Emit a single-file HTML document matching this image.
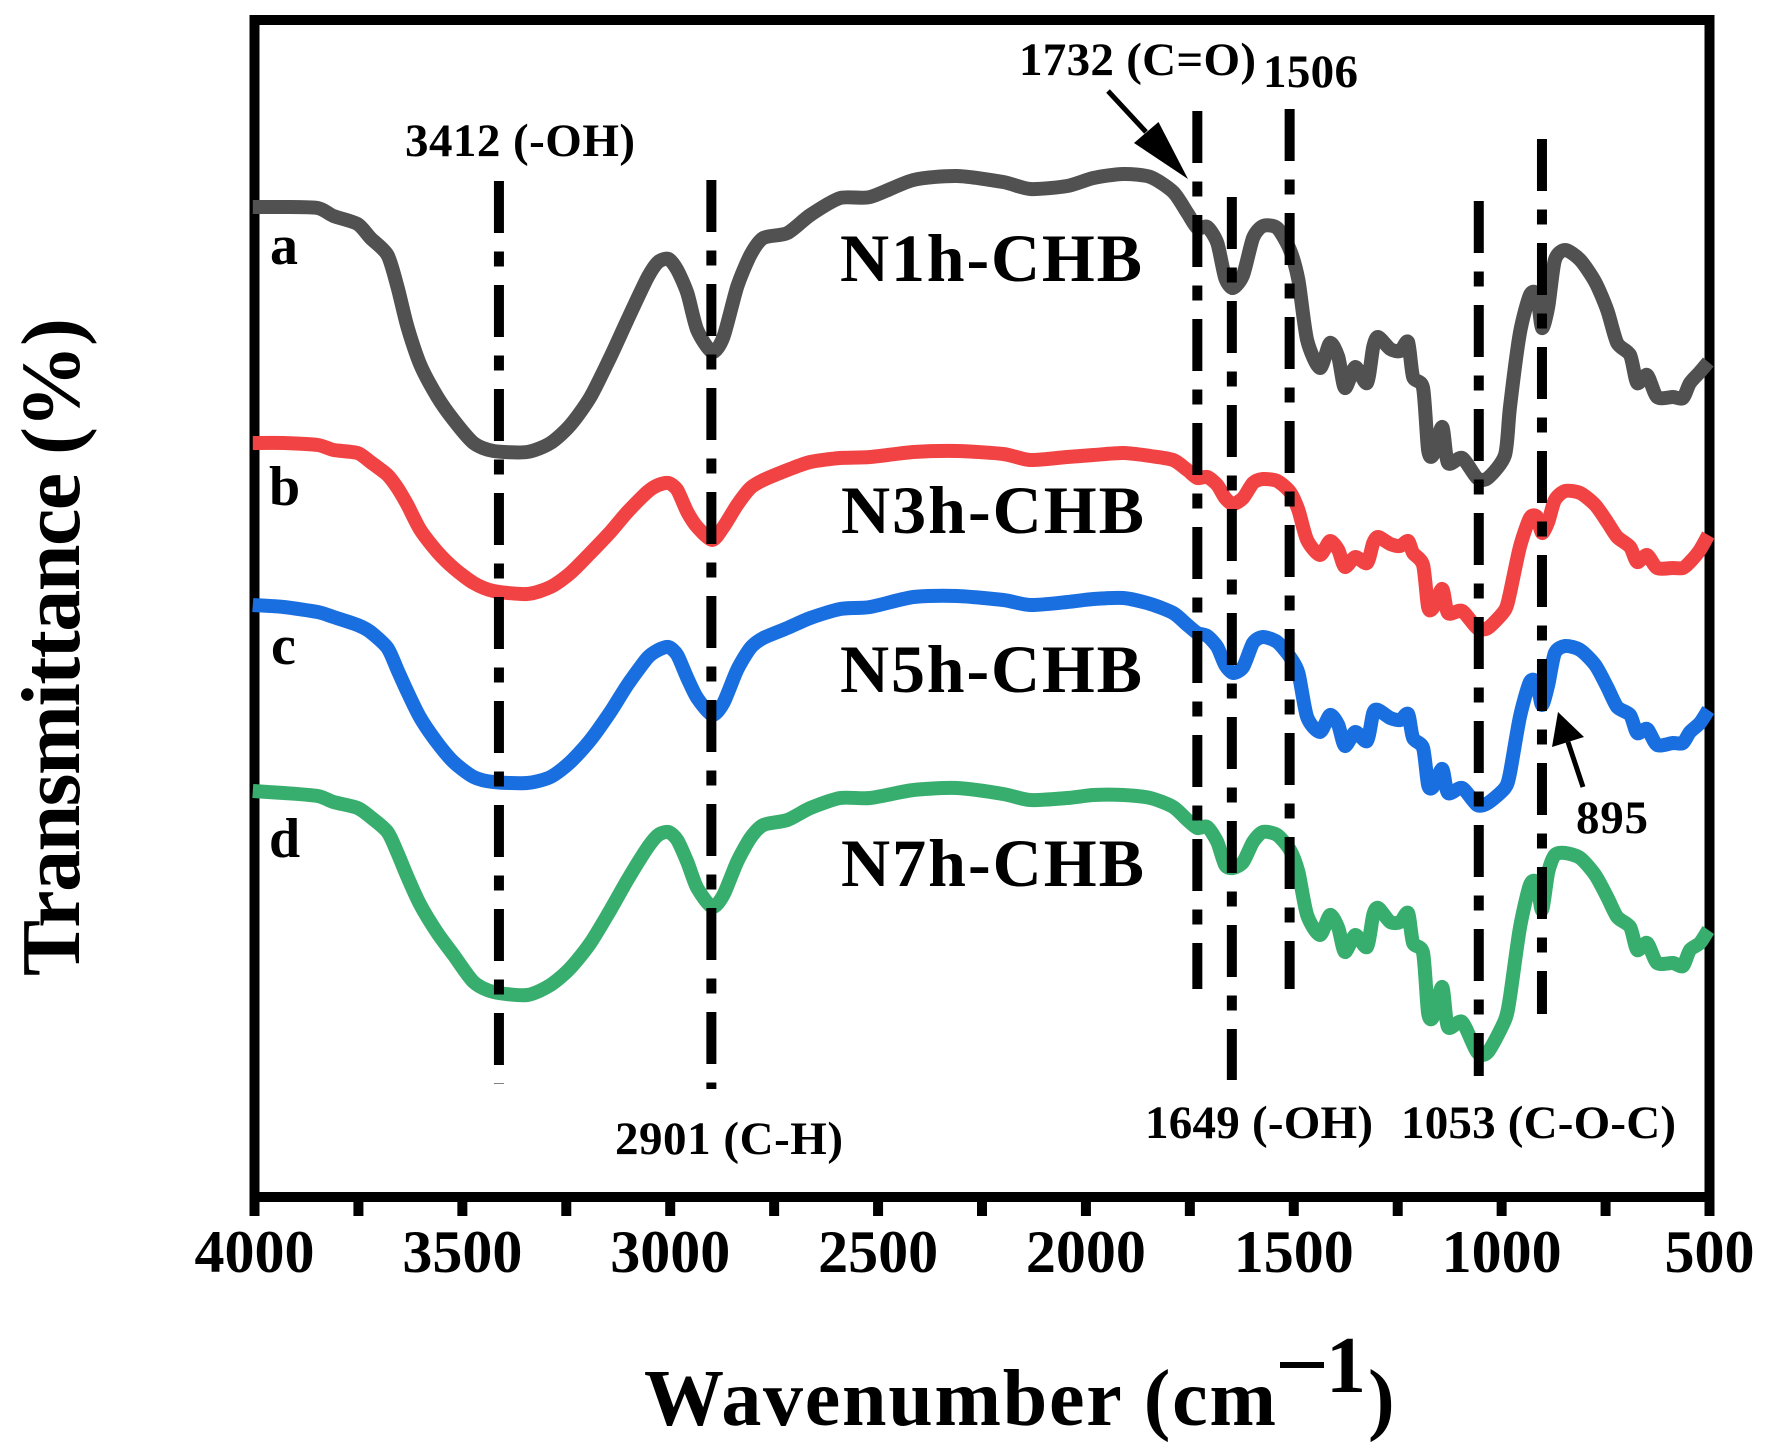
<!DOCTYPE html>
<html lang="en">
<head>
<meta charset="utf-8">
<title>FTIR spectra of CHB samples</title>
<style>
html,body{margin:0;padding:0;background:#fff;width:1768px;height:1455px;overflow:hidden}
svg{display:block}
text{font-family:"Liberation Serif",serif;font-weight:bold;fill:#000}
</style>
</head>
<body>
<svg id="chart" xmlns="http://www.w3.org/2000/svg" width="1768" height="1455" viewBox="0 0 1768 1455">
  <rect x="0" y="0" width="1768" height="1455" fill="#fff"/>
  <rect x="254.5" y="20" width="1455" height="1177" fill="none" stroke="#000" stroke-width="10"/>
  <g id="ticks"></g>
  <g id="tick-labels"></g>
  <g id="series"></g>
  <g id="peaks"></g>

  <text transform="translate(79 976) rotate(-90)" font-size="84" textLength="658" lengthAdjust="spacing">Transmittance (%)</text>
  <text x="644" y="1425" font-size="80" textLength="632" lengthAdjust="spacing">Wavenumber (cm</text>
  <rect x="1280" y="1362" width="44" height="6" fill="#000"/>
  <text x="1326" y="1392" font-size="80">1</text>
  <text x="1368" y="1425" font-size="80">)</text>

  <text x="270" y="264" font-size="56">a</text>
  <text x="269" y="505" font-size="56">b</text>
  <text x="271" y="664" font-size="56">c</text>
  <text x="269" y="857" font-size="56">d</text>

  <text x="840" y="281" font-size="68" textLength="302" lengthAdjust="spacing">N1h-CHB</text>
  <text x="841" y="533" font-size="68" textLength="303" lengthAdjust="spacing">N3h-CHB</text>
  <text x="840" y="692" font-size="68" textLength="302" lengthAdjust="spacing">N5h-CHB</text>
  <text x="841" y="886" font-size="68" textLength="303" lengthAdjust="spacing">N7h-CHB</text>

  <text x="405" y="156" font-size="47" textLength="230" lengthAdjust="spacing">3412 (-OH)</text>
  <text x="1019" y="75" font-size="47" textLength="237" lengthAdjust="spacing">1732 (C=O)</text>
  <text x="1263" y="87" font-size="47" textLength="95" lengthAdjust="spacing">1506</text>
  <text x="615" y="1154" font-size="47" textLength="228" lengthAdjust="spacing">2901 (C-H)</text>
  <text x="1145" y="1138" font-size="47" textLength="228" lengthAdjust="spacing">1649 (-OH)</text>
  <text x="1401" y="1138" font-size="47" textLength="275" lengthAdjust="spacing">1053 (C-O-C)</text>
  <text x="1576" y="833" font-size="47" textLength="72" lengthAdjust="spacing">895</text>

  <g>
    <line x1="1108" y1="91" x2="1146" y2="132" stroke="#000" stroke-width="5"/>
    <polygon points="1188,179 1134,143 1158.5,122" fill="#000"/>
  </g>
  <g>
    <line x1="1583" y1="787" x2="1568" y2="742" stroke="#000" stroke-width="5"/>
    <polygon points="1558,712 1552,747 1584,737" fill="#000"/>
  </g>
</svg>
<script>
// x axis categories: sampled wavenumbers (cm-1)
const wavenumbers = [4004,3930,3848,3810,3752,3721,3680,3656,3632,3601,
3560,3521,3473,3425,3344,3288,3240,3192,3144,3103,
3055,3029,3004,2983,2959,2935,2899,2872,2839,2807,
2776,2718,2663,2591,2519,2415,2310,2199,2134,2045,
1982,1910,1845,1790,1756,1732,1708,1684,1665,1646,
1622,1598,1574,1540,1509,1489,1468,1437,1413,1393,
1377,1352,1324,1309,1297,1268,1244,1225,1213,1189,
1177,1165,1143,1129,1095,1059,1033,992,980,956,
932,915,903,888,872,847,811,775,746,722,
691,674,650,626,588,564,547,523,503];

// stacked transmittance (offset a.u.)
const seriesN1h = [99.0,99.0,98.9,98.1,97.3,95.9,94.2,91.0,87.0,83.2,
80.0,77.7,75.4,74.6,74.5,75.4,77.2,80.0,84.0,87.7,
91.9,93.5,93.8,92.7,90.4,86.7,84.5,86.0,91.0,94.2,
95.9,96.4,98.2,99.9,100.0,101.7,102.1,101.5,100.8,101.1,
101.9,102.3,102.0,100.5,98.4,96.9,97.0,95.4,91.9,90.9,
92.2,95.9,97.1,96.9,94.7,91.7,85.7,82.9,85.4,84.0,
80.9,83.0,81.4,85.0,86.0,84.8,84.6,85.5,82.0,80.9,
74.7,74.2,77.0,73.4,73.9,71.9,71.9,74.2,79.0,86.4,
90.2,90.2,86.9,89.0,93.7,94.7,93.7,91.5,88.7,85.4,
84.2,81.4,82.2,80.0,80.0,79.9,81.4,82.5,83.5];

const seriesN3h = [75.4,75.4,75.2,74.7,74.4,73.5,72.2,70.9,69.2,66.7,
64.5,62.9,61.4,60.6,60.3,61.0,62.4,64.4,66.5,68.5,
70.5,71.2,71.4,70.7,68.5,67.0,65.7,67.0,69.2,70.9,
71.7,72.7,73.5,73.9,74.0,74.5,74.6,74.3,73.7,74.0,
74.2,74.4,74.1,73.7,72.7,71.9,72.0,71.2,69.9,69.3,
69.9,71.4,71.8,71.6,70.5,68.7,65.7,64.2,65.6,64.7,
63.0,64.0,63.4,65.4,66.0,65.3,65.1,65.6,64.4,63.2,
59.0,58.9,60.8,58.4,58.6,56.9,56.9,58.7,60.4,65.0,
67.9,68.0,66.4,67.5,69.7,70.6,70.4,69.2,67.5,66.0,
65.0,63.5,64.2,62.9,62.9,62.9,63.5,64.7,66.2];

const seriesN5h = [59.2,59.0,58.5,58.0,57.2,56.5,54.9,52.7,50.5,47.9,
45.4,43.5,42.0,41.5,41.4,42.0,43.5,45.7,48.5,51.2,
53.9,54.7,55.0,54.2,51.9,49.9,48.2,49.4,52.7,54.9,
55.9,56.9,57.9,58.8,59.0,60.0,60.1,59.7,59.2,59.5,
59.8,59.9,59.3,58.4,57.2,56.4,56.1,55.0,53.2,52.4,
53.0,55.4,56.0,55.5,54.0,52.4,48.0,46.5,48.2,47.2,
45.1,46.5,45.6,48.4,48.7,47.9,47.7,48.3,45.9,44.9,
41.2,41.0,42.8,40.4,40.9,39.2,39.4,40.9,42.4,48.0,
51.5,51.4,49.2,51.2,54.4,55.1,54.7,53.2,51.0,49.0,
48.2,46.4,46.8,45.2,45.4,45.4,46.5,47.4,48.7];

const seriesN7h = [40.6,40.4,40.1,39.5,38.9,38.0,36.5,34.4,32.0,29.2,
26.4,24.2,21.5,20.5,20.2,21.2,22.9,25.4,28.7,31.7,
34.9,36.2,36.5,35.7,33.5,30.9,29.0,30.2,33.5,35.9,
37.2,37.7,38.9,39.9,39.9,40.7,40.9,40.3,39.7,39.9,
40.2,40.2,39.9,39.0,37.7,36.9,37.0,35.5,33.2,32.9,
33.5,35.5,36.5,36.2,34.7,32.5,28.2,26.2,28.2,26.9,
24.5,26.2,25.0,28.2,28.9,27.5,27.5,28.4,25.4,24.4,
18.4,18.0,21.0,17.0,17.5,14.5,14.5,17.7,20.0,26.9,
31.2,31.4,28.7,32.5,34.2,34.4,33.9,32.2,30.0,28.0,
27.0,24.7,25.4,23.4,23.4,23.1,24.7,25.4,26.7];

const seriesNames = ['n1h','n3h','n5h','n7h'];
const seriesColors = ['#515151','#f14343','#1a6fe0','#38ae6e'];

// axis ticks
const majorTicks = [4000,3500,3000,2500,2000,1500,1000,500];
const minorTicks = [3750,3250,2750,2250,1750,1250,750];
const tickLabels = ['4000','3500','3000','2500','2000','1500','1000','500'];

// peak guide lines
const peakWavenumbers = [3412,2901,1732,1649,1510,1055,903];
const peakTopT = [101.6,101.7,108.6,100.0,108.8,99.6,105.8];
const peakBottomT = [11.3,10.8,20.8,11.7,20.8,12.1,18.3];

const allSeries = [seriesN1h,seriesN3h,seriesN5h,seriesN7h];

function xScale(w){ return 254.5 + (4000 - w) * (1455 / 3500); }
function yScale(t){ return 1197 - t * 10; }

const SVGNS = 'http://www.w3.org/2000/svg';
const seriesG = document.getElementById('series');
const peaksG = document.getElementById('peaks');
const ticksG = document.getElementById('ticks');
const labelsG = document.getElementById('tick-labels');

function smoothPath(pts){
  const k = 1 / 8;
  let d = 'M' + pts[0][0].toFixed(1) + ' ' + pts[0][1].toFixed(1);
  for (let i = 0; i < pts.length - 1; i++) {
    const p0 = pts[Math.max(0, i - 1)];
    const p1 = pts[i];
    const p2 = pts[i + 1];
    const p3 = pts[Math.min(pts.length - 1, i + 2)];
    const c1x = p1[0] + (p2[0] - p0[0]) * k;
    const c1y = p1[1] + (p2[1] - p0[1]) * k;
    const c2x = p2[0] - (p3[0] - p1[0]) * k;
    const c2y = p2[1] - (p3[1] - p1[1]) * k;
    d += 'C' + c1x.toFixed(1) + ' ' + c1y.toFixed(1) + ' ' + c2x.toFixed(1) + ' ' + c2y.toFixed(1) + ' ' + p2[0].toFixed(1) + ' ' + p2[1].toFixed(1);
  }
  return d;
}

allSeries.forEach(function(vals, s){
  const pts = vals.map(function(v, i){ return [xScale(wavenumbers[i]), yScale(v)]; });
  const path = document.createElementNS(SVGNS, 'path');
  path.setAttribute('d', smoothPath(pts));
  path.setAttribute('fill', 'none');
  path.setAttribute('stroke', seriesColors[s]);
  path.setAttribute('stroke-width', '14');
  path.setAttribute('stroke-linejoin', 'round');
  
  
  seriesG.appendChild(path);
});

peakWavenumbers.forEach(function(w, i){
  const l = document.createElementNS(SVGNS, 'line');
  l.setAttribute('x1', xScale(w));
  l.setAttribute('x2', xScale(w));
  l.setAttribute('y1', yScale(peakTopT[i]));
  l.setAttribute('y2', yScale(peakBottomT[i]));
  l.setAttribute('stroke', '#000');
  l.setAttribute('stroke-width', '10');
  l.setAttribute('stroke-dasharray', '52 18.5 15 18.5');
  
  
  peaksG.appendChild(l);
});

majorTicks.concat(minorTicks).forEach(function(w){
  const t = document.createElementNS(SVGNS, 'line');
  t.setAttribute('x1', xScale(w));
  t.setAttribute('x2', xScale(w));
  t.setAttribute('y1', 1197);
  t.setAttribute('y2', 1216);
  t.setAttribute('stroke', '#000');
  t.setAttribute('stroke-width', '10');
  
  
  ticksG.appendChild(t);
});

tickLabels.forEach(function(label, i){
  const t = document.createElementNS(SVGNS, 'text');
  t.setAttribute('x', xScale(majorTicks[i]));
  t.setAttribute('y', 1272);
  t.setAttribute('font-size', '60');
  t.setAttribute('text-anchor', 'middle');
  
  
  t.textContent = label;
  labelsG.appendChild(t);
});
</script>
</body>
</html>
